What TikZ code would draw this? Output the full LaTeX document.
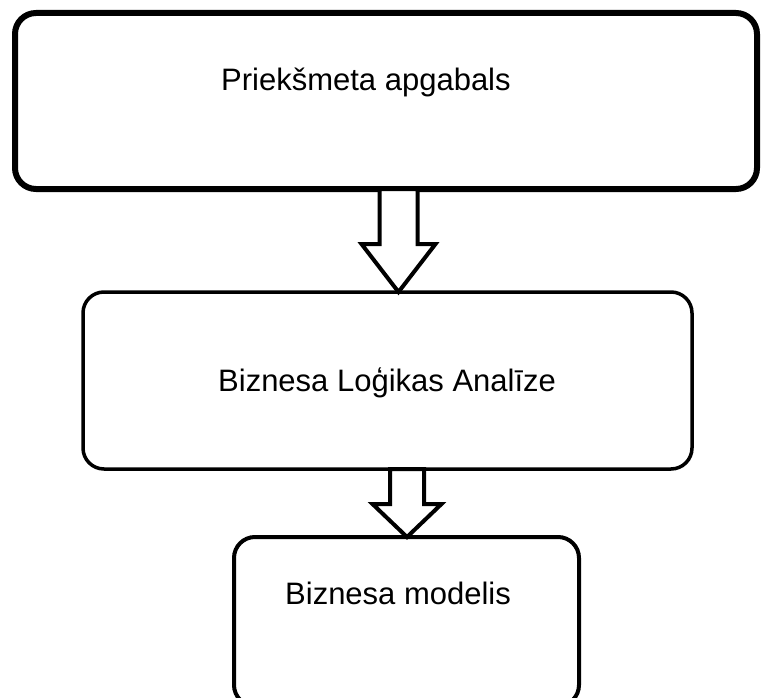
\documentclass[tikz,border=0pt]{standalone}
\usepackage{fontspec}
\setmainfont{Liberation Sans}
\usepackage{tikz}
\usetikzlibrary{calc}
\usetikzlibrary{positioning}

\tikzset{
  bloc/.style={draw=black,rounded corners=21pt,inner sep=0pt,outer sep=0pt},
  texte/.style={anchor=base west,inner sep=0pt,font=\fontsize{31}{36}\selectfont},
  fleche/.style={draw=black,line width=4pt,line join=miter,fill=white}
}
% fleche epaisse : depart, pointe, demi-tige, demi-tete, longueur tete
\newcommand{\grossefleche}[5]{%
  \draw[fleche] ($(#1)+(-#3,0)$) -- ($(#2)+(-#3,-#5)$) -- ($(#2)+(-#4,-#5)$)
    -- (#2) -- ($(#2)+(#4,-#5)$) -- ($(#2)+(#3,-#5)$) -- ($(#1)+(#3,0)$) -- cycle;}

\begin{document}
\begin{tikzpicture}[x=1pt,y=-1pt]
\clip (0,0) rectangle (763,698);
\fill[white] (0,0) rectangle (763,698);
% blocs
\node[bloc,line width=6pt,minimum width=742pt,minimum height=176pt] (dom) at (386,101) {};
\node[bloc,line width=3.5pt,minimum width=609pt,minimum height=177pt] (ana) at (387.5,380.5) {};
\node[bloc,line width=4pt,minimum width=345pt,minimum height=169pt] (mod) at (406.5,621.5) {};
% fleches
\coordinate (d1) at ($(dom.south)+(12.5,0)$);
\coordinate (p1) at ($(ana.north)+(11,0)$);
\coordinate (d2) at ($(ana.south)+(19.5,0)$);
\coordinate (p2) at ($(mod.north)+(0.5,0)$);
\grossefleche{d1}{p1}{19}{37}{48}
\grossefleche{d2}{p2}{17}{34.5}{33}
% textes
\node[texte] (tdom) at (221,91) {Priekšmeta apgabals};
\node[texte] (tana) at (218,391) {Biznesa Loģikas Analīze};
\node[texte] (tmod) at (285,604) {Biznesa modelis};
\end{tikzpicture}
\end{document}
